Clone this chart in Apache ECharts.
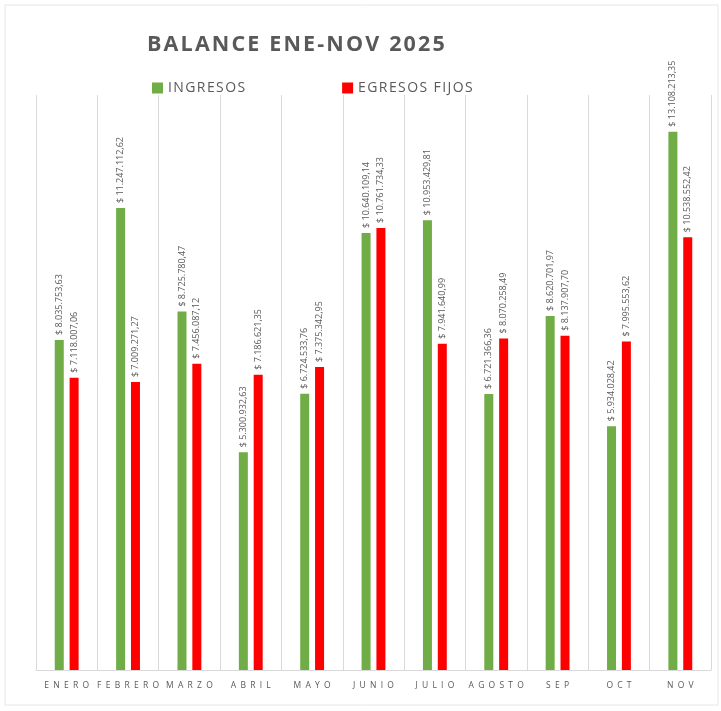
<!DOCTYPE html>
<html><head><meta charset="utf-8">
<script src="https://cdn.jsdelivr.net/npm/echarts@6/dist/echarts.min.js"></script>
<style>html,body{margin:0;padding:0;background:#fff}#c{width:721px;height:711px}</style>
</head><body><div id="c"></div>
<script>
const categories = ["ENERO","FEBRERO","MARZO","ABRIL","MAYO","JUNIO","JULIO","AGOSTO","SEP","OCT","NOV"];
const ingresos = [8035753.63,11247112.62,8725780.47,5300932.63,6724533.76,10640109.14,10953429.81,6721366.36,8620701.97,5934028.42,13108213.35];
const egresos = [7118007.06,7009271.27,7456087.12,7186621.35,7375342.95,10761734.33,7941640.99,8070258.49,8137907.70,7995553.62,10538552.42];
const seriesNames = ["INGRESOS","EGRESOS FIJOS"];
const titleText = "BALANCE ENE-NOV 2025";

function fmt(v){
  const parts = v.toFixed(2).split('.');
  const int = parts[0].replace(/\B(?=(\d{3})+(?!\d))/g,'.');
  return '$ ' + int + ',' + parts[1];
}
const spread = (s, sep) => s.split('').join(sep);
const chart = echarts.init(document.getElementById('c'));
const lbl = {show:true, position:'top', rotate:90, align:'left', verticalAlign:'middle', distance:5,
  formatter:p=>fmt(p.value), fontSize:9, color:'#595959', fontFamily:'Open Sans'};
chart.setOption({
  backgroundColor:'#fff',
  animation:false,
  title:{text:spread(titleText,'\u200A'), left:142, top:29, textStyle:{fontSize:21.5, fontWeight:'bold', color:'#595959', fontFamily:'Open Sans'}},
  legend:{left:152, top:81, padding:0, itemWidth:11, itemHeight:11, itemGap:97, icon:'rect',
    formatter:n=>spread(n,'\u200A'),
    textStyle:{fontSize:14, color:'#595959', fontFamily:'Open Sans'}},
  grid:{left:36, right:10, top:95, bottom:41},
  xAxis:{type:'category', data:categories,
    axisLine:{lineStyle:{color:'#d9d9d9'}}, axisTick:{show:false},
    splitLine:{show:true, interval:0, lineStyle:{color:'#d9d9d9'}},
    axisLabel:{interval:0, fontSize:8.5, color:'#595959', fontFamily:'Open Sans', margin:11,
      formatter:v=>spread(v,'\u2002')}},
  yAxis:{type:'value', min:0, max:14000000, show:false, splitLine:{show:false}},
  series:[
    {name:seriesNames[0], type:'bar', data:ingresos, barWidth:9, barGap:'65%', itemStyle:{color:'#70AD47'}, label:lbl},
    {name:seriesNames[1], type:'bar', data:egresos, barWidth:9, barGap:'65%', itemStyle:{color:'#FF0000'}, label:lbl}
  ],
  graphic:[{type:'rect', shape:{x:5, y:5, width:713, height:700}, style:{fill:'none', stroke:'#e6e6e6', lineWidth:1}, silent:true}]
});
</script></body></html>
